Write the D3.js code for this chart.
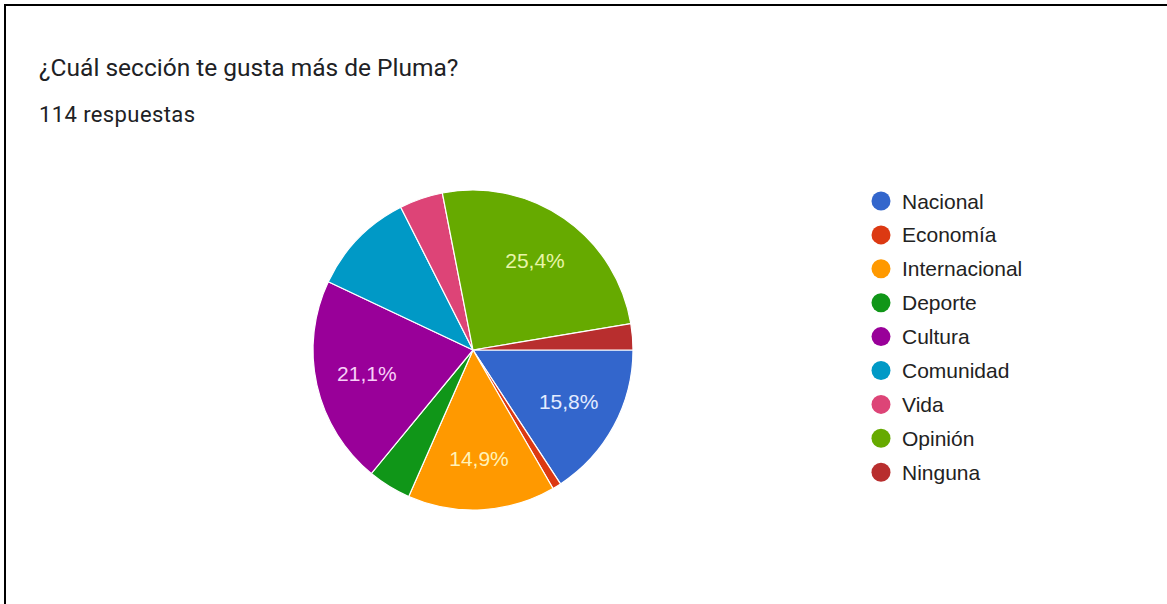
<!DOCTYPE html>
<html>
<head>
<meta charset="utf-8">
<script src="https://cdn.jsdelivr.net/npm/d3@7"></script>
<style>
  html, body { margin: 0; padding: 0; background: #fff; }
  svg { display: block; }
</style>
</head>
<body>
<svg id="chart" width="1167" height="604"></svg>
<script>
// Survey answers: "¿Cuál sección te gusta más de Pluma?" (114 responses)
const categories = ["Nacional", "Economía", "Internacional", "Deporte", "Cultura", "Comunidad", "Vida", "Opinión", "Ninguna"];
const counts = [18, 1, 17, 5, 24, 12, 5, 29, 3];
const colors = ["#3366cc", "#dc3912", "#ff9900", "#109618", "#990099", "#0099c6", "#dd4477", "#66aa00", "#b82e2e"];
const labelTints = ["#e4ecff", "#ffffff", "#fff2b8", "#ffffff", "#f8d0f8", "#ffffff", "#ffffff", "#e8f5a8", "#ffffff"];
const titleText = "¿Cuál sección te gusta más de Pluma?";
const subtitleText = "114 respuestas";

const svg = d3.select("#chart");

// Frame lines along the top and left edges
svg.append("line").attr("x1", 4).attr("y1", 5).attr("x2", 1167).attr("y2", 5)
  .attr("stroke", "#000").attr("stroke-width", 2);
svg.append("line").attr("x1", 5).attr("y1", 4).attr("x2", 5).attr("y2", 604)
  .attr("stroke", "#000").attr("stroke-width", 2);

// Heading
svg.append("text").attr("x", 39).attr("y", 76)
  .attr("font-family", "Roboto, Arial, sans-serif").attr("font-size", 24.5)
  .attr("fill", "#202124").text(titleText);
svg.append("text").attr("x", 39).attr("y", 122)
  .attr("font-family", "Roboto, Arial, sans-serif").attr("font-size", 22)
  .attr("letter-spacing", 0.4)
  .attr("fill", "#202124").text(subtitleText);

// Pie, starting at 3 o'clock and running clockwise
const total = d3.sum(counts);
const data = categories.map((c, i) => ({ name: c, value: counts[i], color: colors[i], tint: labelTints[i] }));
const cx = 473, cy = 350, radius = 160;

const pie = d3.pie().value(d => d.value).sort(null)
  .startAngle(Math.PI / 2).endAngle(Math.PI / 2 + 2 * Math.PI);
const arcs = pie(data);
const arc = d3.arc().innerRadius(0).outerRadius(radius);
const labelArc = d3.arc().innerRadius(radius * 0.68).outerRadius(radius * 0.68);

const g = svg.append("g").attr("transform", `translate(${cx},${cy})`);
g.selectAll("path.slice").data(arcs).join("path")
  .attr("class", "slice")
  .attr("d", arc)
  .attr("fill", d => d.data.color)
  .attr("stroke", "#ffffff")
  .attr("stroke-width", 1.2);

const fmt = v => (v * 100).toFixed(1).replace(".", ",") + "%";
g.selectAll("text.pct").data(arcs.filter(d => d.data.value / total > 0.12)).join("text")
  .attr("class", "pct")
  .attr("transform", d => `translate(${labelArc.centroid(d)})`)
  .attr("text-anchor", "middle").attr("dy", "0.36em")
  .attr("font-family", "'Liberation Sans', Arial, sans-serif").attr("font-size", 21)
  .attr("fill", d => d.data.tint)
  .text(d => fmt(d.data.value / total));

// Legend
const legend = svg.append("g").attr("transform", "translate(881,201)");
const rowH = 33.9;
const rows = legend.selectAll("g").data(data).join("g")
  .attr("transform", (d, i) => `translate(0,${i * rowH})`);
rows.append("circle").attr("r", 9.5).attr("fill", d => d.color);
rows.append("text").attr("x", 21).attr("dy", "0.36em")
  .attr("font-family", "'Liberation Sans', Arial, sans-serif").attr("font-size", 21)
  .attr("fill", "#222222").text(d => d.name);
</script>
</body>
</html>
